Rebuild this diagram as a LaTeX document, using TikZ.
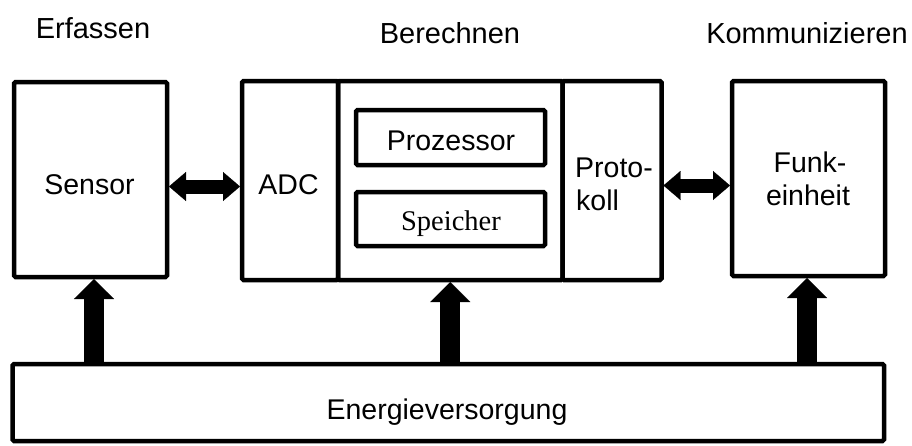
\documentclass[tikz,border=0pt]{standalone}
\usepackage{fontspec}
\setmainfont{Liberation Sans}
\newfontfamily\serifface{Liberation Serif}
\usetikzlibrary{arrows.meta,calc}
\begin{document}
\begin{tikzpicture}[x=1pt,y=-1pt,
  box/.style={draw, line width=4.5pt, rounded corners=1.5pt, outer sep=0pt, inner sep=0pt},
  lbl/.style={font=\fontsize{28.5}{33}\selectfont, inner sep=0pt, anchor=base},
  hdr/.style={lbl, font=\fontsize{29}{33}\selectfont},
  uparrow/.style={line width=20pt, -{Triangle[length=20pt,width=40pt,line width=0.1pt]}},
  dblarrow/.style={line width=14pt, {Triangle[length=17pt,width=29pt,line width=0.1pt]}-{Triangle[length=17pt,width=29pt,line width=0.1pt]}}]
\useasboundingbox (0,0) rectangle (912,445);
% boxes
\node[box, minimum width=153pt, minimum height=195pt] (sensor) at (90.5,179.5) {};
\node[box, minimum width=96pt, minimum height=199pt] (adc) at (290,180.5) {};
\node[box, minimum width=224.5pt, minimum height=199pt] (mid) at (450.25,180.5) {};
\node[box, minimum width=99pt, minimum height=199pt] (proto) at (612,180.5) {};
\node[box, minimum width=153pt, minimum height=195pt] (funk) at (808.5,178.5) {};
\node[box, minimum width=871.5pt, minimum height=77pt] (energy) at (448.25,402.5) {};
\node[box, minimum width=189pt, minimum height=55pt] (proz) at (450.5,137.5) {};
\node[box, minimum width=189pt, minimum height=54pt] (speich) at (450.5,219) {};
% texts
\node[hdr] (t1) at (93,38) {Erfassen};
\node[hdr] (t2) at (450,43) {Berechnen};
\node[hdr] (t3) at (807,43) {Kommunizieren};
\node[lbl] (tsensor) at (89.5,194) {Sensor};
\node[lbl] (tadc) at (288.5,194) {ADC};
\node[lbl] (tproz) at (451,150) {Prozessor};
\node[lbl, font=\fontsize{28.5}{33}\selectfont\serifface] (tspeich) at (451,230) {Speicher};
\node[lbl, anchor=base west] (tproto1) at (575,177) {Proto-};
\node[lbl, anchor=base west] (tproto2) at (576,210) {koll};
\node[lbl] (tfunk1) at (810,172) {Funk-};
\node[lbl] (tfunk2) at (808,205) {einheit};
\node[lbl] (tenergy) at (447,419) {Energieversorgung};
% connectors
\draw[uparrow] ([xshift=3.5pt]energy.north -| sensor.south) -- ([xshift=3.5pt,yshift=-2pt]sensor.south);
\draw[uparrow] (energy.north -| mid.south) -- ([yshift=-2pt]mid.south);
\draw[uparrow] ([xshift=-1.5pt]energy.north -| funk.south) -- ([xshift=-1.5pt,yshift=-2pt]funk.south);
\draw[dblarrow] ([xshift=2pt,yshift=-7pt]sensor.east) -- ([xshift=-2pt,yshift=-7pt]sensor.east -| adc.west);
\draw[dblarrow] ([xshift=2pt,yshift=-5pt]proto.east) -- ([xshift=-2pt,yshift=-5pt]proto.east -| funk.west);
\end{tikzpicture}
\end{document}
